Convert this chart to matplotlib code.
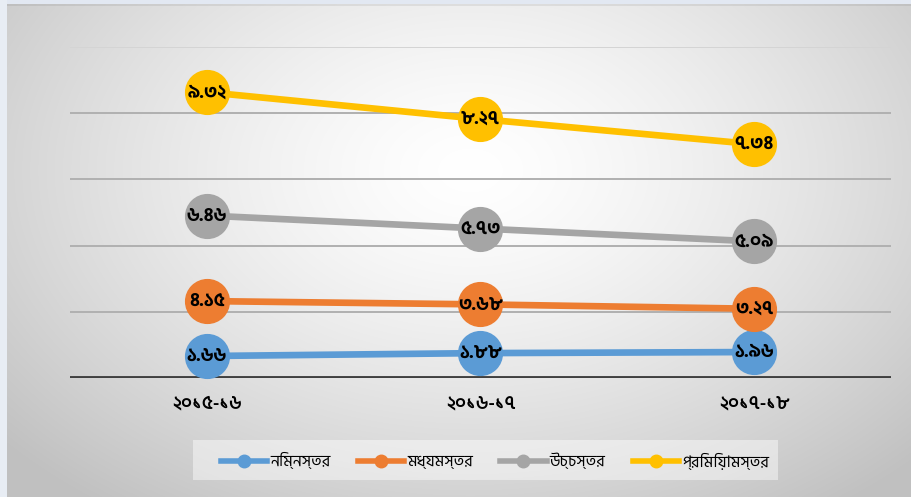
import os
import numpy as np
import matplotlib
matplotlib.use("Agg")
import matplotlib.pyplot as plt
from matplotlib import font_manager as fm
from matplotlib.patches import Rectangle
from matplotlib.lines import Line2D

# ---- data ----
categories = ["২০১৫-১৬", "২০১৬-১৭", "২০১৭-১৮"]
series_names = ["নিম্নস্তর", "মধ্যমস্তর", "উচ্চস্তর", "প্রিমিয়ামস্তর"]
low = [1.66, 1.88, 1.96]
middle = [4.15, 3.68, 3.27]
high = [6.46, 5.73, 5.09]
premium = [9.32, 8.27, 7.34]
colors = ["#5B9BD5", "#ED7D31", "#A5A5A5", "#FFC000"]
y_ticks = [0, 5, 10, 15, 20, 25]

# ---- fonts ----
fdir = "/usr/share/fonts/truetype/google-fonts/"
fam = "DejaVu Sans"
for fn in ["HindSiliguri-Regular.ttf", "HindSiliguri-SemiBold.ttf",
           "HindSiliguri-Bold.ttf", "HindSiliguri-Medium.ttf"]:
    p = os.path.join(fdir, fn)
    if os.path.exists(p):
        fm.fontManager.addfont(p)
        fam = "Hind Siliguri"
plt.rcParams["font.family"] = [fam, "DejaVu Sans"]

bn_digits = str.maketrans("0123456789", "০১২৩৪৫৬৭৮৯")
def bn(v):
    return ("%.2f" % v).translate(bn_digits)

W, H = 912, 497
fig = plt.figure(figsize=(W / 100, H / 100), dpi=100)

# ---- background gradient ----
bg = fig.add_axes([0, 0, 1, 1], zorder=-10)
yy, xx = np.mgrid[0:H, 0:W]
d = np.sqrt(((xx - 470) / 620.0) ** 2 + ((yy - 170) / 420.0) ** 2)
d = np.clip(d, 0, 1) ** 1.4
v = (255 - (255 - 192) * d) / 255.0
img = np.dstack([v, v, v])
img[0:4, :, :] = [0.89, 0.91, 0.95]
img[:, 0:7, :] = [0.91, 0.93, 0.96]
img[4:6, 7:, :] = img[4:6, 7:, :] * 0.93
bg.imshow(img, extent=[0, W, H, 0], aspect="auto", interpolation="bilinear")
bg.set_xlim(0, W); bg.set_ylim(H, 0)
bg.axis("off")
# legend box
bg.add_patch(Rectangle((193, 440), 585, 40, facecolor="white", alpha=0.45,
                       edgecolor="none"))

# ---- main axes ----
left, right = 70 / W, 891 / W
bottom, top = 1 - 378 / H, 1 - 47 / H
ax = fig.add_axes([left, bottom, right - left, top - bottom])
ax.set_facecolor("none")
ax.set_xlim(-0.5, len(categories) - 0.5)
ax.set_ylim(0, 25)
for s in ax.spines.values():
    s.set_visible(False)
ax.set_yticks([])
ax.set_xticks(range(len(categories)))
ax.set_xticklabels(categories, fontsize=13.5, fontweight="semibold", color="black")
ax.tick_params(axis="x", length=0, pad=12)

for t in y_ticks[1:]:
    ax.axhline(t, color="#d4d4d4" if t == 25 else "#b0b0b0", lw=1.4, zorder=1)
ax.axhline(0, color="#404040", lw=2.8, zorder=2)

data = [low, middle, high, premium]
cum = np.cumsum(np.array(data), axis=0)
x = np.arange(len(categories))
for i, (vals, c) in enumerate(zip(data, colors)):
    ax.plot(x, cum[i], color=c, lw=4.8, marker="o", markersize=31.5,
            markerfacecolor=c, markeredgecolor=c, zorder=3 + i, clip_on=False,
            solid_capstyle="butt")
    for xi, yi, vi in zip(x, cum[i], vals):
        ax.text(xi, yi, bn(vi), ha="center", va="center", fontsize=13.5,
                fontweight="bold", color="black", zorder=10)

handles = [Line2D([0], [0], color=c, lw=4, marker="o", markersize=9,
                  markerfacecolor=c, markeredgecolor=c) for c in colors]
leg = fig.legend(handles, series_names, loc="center", ncol=4,
                 bbox_to_anchor=(495 / W, 1 - 461 / H), frameon=False,
                 fontsize=11.5, handlelength=2.9, columnspacing=1.7,
                 handletextpad=0.2)

fig.savefig("out.png", dpi=100)
